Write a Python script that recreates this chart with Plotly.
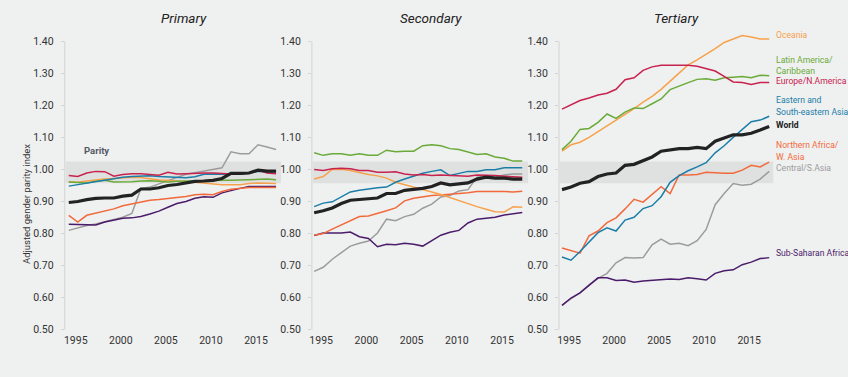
import plotly.graph_objects as go

years = list(range(1995, 2019))

regions = ["Central/S.Asia", "Sub-Saharan Africa", "Northern Africa/W. Asia", "Oceania",
           "Latin America/Caribbean", "Eastern and South-eastern Asia", "Europe/N.America", "World"]

colors = {
    "Oceania": "#f7a24b",
    "Latin America/Caribbean": "#6aaa38",
    "Europe/N.America": "#c8224e",
    "Eastern and South-eastern Asia": "#1a7ea8",
    "World": "#222222",
    "Northern Africa/W. Asia": "#f26a3c",
    "Central/S.Asia": "#9c9c9c",
    "Sub-Saharan Africa": "#4b1c6b",
}

primary = {
    "World": [0.897, 0.900, 0.906, 0.910, 0.911, 0.911, 0.917, 0.920, 0.939, 0.939, 0.943, 0.950,
              0.953, 0.958, 0.963, 0.964, 0.966, 0.972, 0.988, 0.988, 0.989, 0.998, 0.995, 0.995],
    "Europe/N.America": [0.981, 0.978, 0.989, 0.994, 0.993, 0.979, 0.984, 0.987, 0.987, 0.985, 0.982, 0.991,
                         0.986, 0.987, 0.989, 0.989, 0.989, 0.987, 0.986, 0.987, 0.989, 0.999, 0.989, 0.987],
    "Eastern and South-eastern Asia": [0.948, 0.953, 0.958, 0.962, 0.968, 0.972, 0.976, 0.978, 0.979, 0.980,
                                       0.978, 0.976, 0.974, 0.974, 0.977, 0.985, 0.986, 0.985, 0.985, 0.986,
                                       0.988, 0.994, 0.993, 0.993],
    "Latin America/Caribbean": [0.961, 0.960, 0.958, 0.963, 0.966, 0.961, 0.961, 0.962, 0.964, 0.965, 0.963,
                                0.961, 0.963, 0.964, 0.965, 0.966, 0.966, 0.966, 0.966, 0.967, 0.969, 0.970,
                                0.970, 0.968],
    "Oceania": [0.961, 0.960, 0.964, 0.968, 0.970, 0.972, 0.974, 0.976, 0.975, 0.970, 0.967, 0.966, 0.965,
                0.962, 0.960, 0.957, 0.955, 0.952, 0.952, 0.952, 0.956, 0.958, 0.957, 0.956],
    "Northern Africa/W. Asia": [0.857, 0.836, 0.857, 0.864, 0.870, 0.877, 0.887, 0.893, 0.900, 0.904, 0.906,
                                0.909, 0.911, 0.916, 0.921, 0.923, 0.921, 0.931, 0.938, 0.942, 0.944, 0.944,
                                0.944, 0.944],
    "Sub-Saharan Africa": [0.829, 0.829, 0.829, 0.827, 0.836, 0.841, 0.848, 0.849, 0.853, 0.861, 0.870, 0.882,
                           0.894, 0.900, 0.910, 0.915, 0.913, 0.927, 0.935, 0.941, 0.947, 0.947, 0.947, 0.947],
    "Central/S.Asia": [0.810, 0.818, 0.825, 0.830, 0.837, 0.843, 0.851, 0.863, 0.940, 0.945, 0.955, 0.965,
                       0.975, 0.985, 0.990, 0.995, 1.000, 1.005, 1.055, 1.049, 1.049, 1.077, 1.070, 1.062],
}

secondary = {
    "World": [0.865, 0.871, 0.880, 0.894, 0.904, 0.907, 0.909, 0.911, 0.925, 0.925, 0.935, 0.938, 0.941,
              0.947, 0.958, 0.952, 0.955, 0.958, 0.970, 0.976, 0.973, 0.973, 0.970, 0.970],
    "Latin America/Caribbean": [1.052, 1.044, 1.049, 1.049, 1.044, 1.049, 1.044, 1.044, 1.060, 1.055, 1.057,
                                1.057, 1.074, 1.077, 1.074, 1.065, 1.062, 1.054, 1.047, 1.049, 1.039, 1.035,
                                1.026, 1.026],
    "Europe/N.America": [1.000, 0.997, 1.002, 1.004, 1.002, 0.997, 0.997, 0.991, 0.991, 0.993, 0.986, 0.983,
                         0.984, 0.981, 0.983, 0.981, 0.979, 0.979, 0.983, 0.983, 0.981, 0.979, 0.978, 0.976],
    "Oceania": [0.970, 0.978, 1.000, 1.001, 0.997, 0.990, 0.984, 0.980, 0.973, 0.960, 0.953, 0.945, 0.937,
                0.930, 0.922, 0.912, 0.902, 0.894, 0.884, 0.876, 0.868, 0.867, 0.884, 0.882],
    "Eastern and South-eastern Asia": [0.884, 0.895, 0.899, 0.914, 0.930, 0.935, 0.940, 0.943, 0.945, 0.960,
                                       0.970, 0.979, 0.988, 0.994, 0.999, 0.981, 0.988, 0.994, 0.994, 0.999,
                                       0.999, 1.005, 1.005, 1.005],
    "Northern Africa/W. Asia": [0.795, 0.800, 0.814, 0.827, 0.840, 0.853, 0.855, 0.862, 0.871, 0.880, 0.902,
                                0.910, 0.914, 0.919, 0.920, 0.922, 0.924, 0.927, 0.931, 0.930, 0.931, 0.931,
                                0.930, 0.932],
    "Central/S.Asia": [0.682, 0.695, 0.720, 0.741, 0.761, 0.770, 0.777, 0.802, 0.845, 0.840, 0.853, 0.860,
                       0.879, 0.892, 0.914, 0.919, 0.933, 0.937, 0.976, 0.979, 0.976, 0.983, 0.986, 0.986],
    "Sub-Saharan Africa": [0.794, 0.802, 0.802, 0.802, 0.805, 0.790, 0.785, 0.759, 0.767, 0.765, 0.770,
                           0.767, 0.761, 0.779, 0.795, 0.804, 0.810, 0.833, 0.845, 0.848, 0.851, 0.858,
                           0.861, 0.866],
}

tertiary = {
    "Oceania": [1.057, 1.077, 1.085, 1.100, 1.118, 1.136, 1.152, 1.170, 1.190, 1.210, 1.228, 1.250, 1.275,
                1.300, 1.326, 1.342, 1.359, 1.377, 1.396, 1.408, 1.418, 1.413, 1.407, 1.407],
    "Latin America/Caribbean": [1.062, 1.088, 1.125, 1.128, 1.147, 1.173, 1.159, 1.179, 1.192, 1.190, 1.205,
                                1.220, 1.249, 1.261, 1.271, 1.281, 1.283, 1.278, 1.286, 1.288, 1.290, 1.286,
                                1.294, 1.292],
    "Europe/N.America": [1.188, 1.202, 1.215, 1.223, 1.232, 1.238, 1.250, 1.280, 1.286, 1.309, 1.320, 1.325,
                         1.325, 1.325, 1.325, 1.322, 1.315, 1.307, 1.290, 1.273, 1.271, 1.265, 1.271, 1.271],
    "World": [0.937, 0.945, 0.957, 0.962, 0.978, 0.986, 0.989, 1.013, 1.016, 1.027, 1.039, 1.057, 1.060,
              1.065, 1.065, 1.069, 1.065, 1.088, 1.098, 1.108, 1.108, 1.113, 1.123, 1.134],
    "Eastern and South-eastern Asia": [0.727, 0.717, 0.744, 0.775, 0.803, 0.818, 0.808, 0.842, 0.851, 0.878,
                                       0.887, 0.915, 0.960, 0.981, 0.996, 1.008, 1.021, 1.052, 1.074, 1.100,
                                       1.125, 1.149, 1.154, 1.166],
    "Northern Africa/W. Asia": [0.755, 0.747, 0.739, 0.793, 0.808, 0.834, 0.849, 0.877, 0.907, 0.898, 0.923,
                                0.946, 0.925, 0.983, 0.983, 0.984, 0.991, 0.989, 0.988, 0.988, 0.998, 1.013,
                                1.008, 1.023],
    "Central/S.Asia": [0.576, 0.597, 0.615, 0.640, 0.660, 0.676, 0.709, 0.725, 0.724, 0.725, 0.765, 0.783,
                       0.767, 0.770, 0.762, 0.778, 0.813, 0.890, 0.925, 0.956, 0.951, 0.954, 0.970, 0.994],
    "Sub-Saharan Africa": [0.576, 0.599, 0.615, 0.640, 0.662, 0.662, 0.654, 0.655, 0.648, 0.652, 0.654,
                           0.658, 0.658, 0.657, 0.662, 0.659, 0.655, 0.676, 0.684, 0.687, 0.703, 0.711,
                           0.722, 0.725],
}

panel_titles = ["Primary", "Secondary", "Tertiary"]
y_ticks = [0.5, 0.6, 0.7, 0.8, 0.9, 1.0, 1.1, 1.2, 1.3, 1.4]
x_ticks = [1995, 2000, 2005, 2010, 2015]
parity_low, parity_high = 0.957, 1.025

W, H = 848, 377
FONT = "Roboto, sans-serif"
BG = "#eff0f0"
AXIS_COLOR = "#d2d5d5"

fig = go.Figure()

panels = [primary, secondary, tertiary]
# pixel layout per panel: (left px, right px, x range)
px_layout = [(62, 279, [1994.56, 2018.55]),
             (310, 527, [1994.75, 2018.65]),
             (558, 773, [1994.67, 2018.45])]
y_range = [0.5, 1.43]
px_per_unit = (336 - 42) / 0.9
y_top_px = 42 - (y_range[1] - 1.4) * px_per_unit
ydom = [(H - 336) / H, (H - y_top_px) / H]

for i, data in enumerate(panels):
    n = "" if i == 0 else str(i + 1)
    for r in regions:
        fig.add_trace(go.Scatter(
            x=years, y=data[r], mode="lines", name=r, showlegend=False,
            line=dict(color=colors[r], width=3.2 if r == "World" else 1.5),
            xaxis="x" + n, yaxis="y" + n, hoverinfo="skip"))
    left, right, xr = px_layout[i]
    fig.update_layout(**{
        "xaxis" + n: dict(domain=[left / W, right / W], range=xr, tickvals=x_ticks,
                          showgrid=False, zeroline=False, showline=False, ticks="",
                          ticklabelshift=7, ticklabelstandoff=3,
                          tickfont=dict(family=FONT, size=10.5, color="#333333"),
                          anchor="y" + n, fixedrange=True),
        "yaxis" + n: dict(domain=ydom, range=y_range, tickvals=y_ticks,
                          tickformat=".2f", showgrid=False, zeroline=False,
                          showline=False,
                          ticks="outside", ticklen=3, tickcolor=AXIS_COLOR,
                          ticklabelstandoff=5,
                          tickfont=dict(family=FONT, size=10.5, color="#333333"),
                          anchor="x" + n, fixedrange=True),
    })
    # vertical axis line from 0.50 to 1.40
    fig.add_shape(type="line", xref="x" + n + " domain", yref="y" + n,
                  x0=0, x1=0, y0=y_ticks[0], y1=y_ticks[-1],
                  line=dict(color=AXIS_COLOR, width=1), layer="below")
    fig.add_shape(type="rect", xref="x" + n + " domain", yref="y" + n,
                  x0=0.003, x1=1, y0=parity_low, y1=parity_high,
                  fillcolor="#dfe1e1", line=dict(width=0), layer="below")
    fig.add_annotation(text="<i>" + panel_titles[i] + "</i>", xref="x" + n + " domain", yref="paper",
                       x=0.55, y=1 - 18 / H, showarrow=False, xanchor="center", yanchor="middle",
                       font=dict(family=FONT, size=13.5, color="#222222"))

fig.add_annotation(text="<b>Parity</b>", xref="paper", yref="paper", x=79 / W, y=1 - 153 / H,
                   xanchor="left", yanchor="middle", showarrow=False,
                   font=dict(family=FONT, size=9.5, color="#555a66"))

fig.add_annotation(text="Adjusted gender parity index", xref="paper", yref="paper",
                   x=23 / W, y=1 - 208 / H, textangle=-90, showarrow=False,
                   xanchor="center", yanchor="middle",
                   font=dict(family=FONT, size=9.5, color="#333333"))

labels = [
    ("Oceania", 36, "Oceania", False),
    ("Latin America/", 61, "Latin America/Caribbean", False),
    ("Caribbean", 72, "Latin America/Caribbean", False),
    ("Europe/N.America", 83, "Europe/N.America", False),
    ("Eastern and", 102, "Eastern and South-eastern Asia", False),
    ("South-eastern Asia", 114, "Eastern and South-eastern Asia", False),
    ("World", 127, "World", True),
    ("Northern Africa/", 148, "Northern Africa/W. Asia", False),
    ("W. Asia", 160, "Northern Africa/W. Asia", False),
    ("Central/S.Asia", 171, "Central/S.Asia", False),
    ("Sub-Saharan Africa", 258, "Sub-Saharan Africa", False),
]
for txt, ypx, key, bold in labels:
    fig.add_annotation(text=("<b>%s</b>" % txt) if bold else txt, xref="paper", yref="paper",
                       x=775 / W, y=1 - ypx / H, xanchor="left", yanchor="middle", showarrow=False,
                       borderpad=0,
                       font=dict(family=FONT, size=8.6, color=colors[key]))

fig.update_layout(width=W, height=H, margin=dict(l=0, r=0, t=0, b=0),
                  paper_bgcolor=BG, plot_bgcolor=BG, showlegend=False)

fig.write_html("out.html", config={"displayModeBar": False, "staticPlot": True},
               post_script="document.body.style.margin='0';document.body.style.overflow='hidden';")
